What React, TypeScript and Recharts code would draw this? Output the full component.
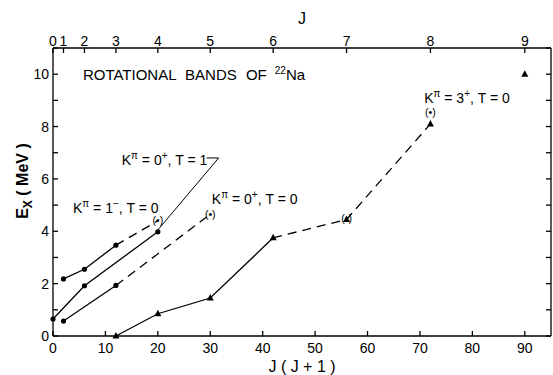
import React from 'react';
import {
  ComposedChart,
  Line,
  Scatter,
  XAxis,
  YAxis,
  ReferenceLine,
  ReferenceDot,
} from 'recharts';

const FONT = '"Liberation Sans", Arial, sans-serif';

// axes
const jValues = [0, 1, 2, 3, 4, 5, 6, 7, 8, 9];
const jjTicks = jValues.map((j) => j * (j + 1));
const bottomTicks = [0, 10, 20, 30, 40, 50, 60, 70, 80, 90];
const exTicks = [0, 1, 2, 3, 4, 5, 6, 7, 8, 9, 10, 11];

// K=1-, T=0
const band1mSolid = [{ jj: 2, ex: 2.18 }, { jj: 6, ex: 2.55 }, { jj: 12, ex: 3.47 }];
const band1mDashed = [{ jj: 12, ex: 3.47 }, { jj: 20, ex: 4.4 }];
// K=0+, T=1
const band0T1 = [{ jj: 0, ex: 0.65 }, { jj: 6, ex: 1.92 }, { jj: 20, ex: 3.98 }];
// K=0+, T=0
const band0T0Solid = [{ jj: 2, ex: 0.57 }, { jj: 12, ex: 1.93 }];
const band0T0Dashed = [{ jj: 12, ex: 1.93 }, { jj: 30, ex: 4.65 }];
// K=3+, T=0
const band3Solid = [{ jj: 12, ex: 0 }, { jj: 20, ex: 0.85 }, { jj: 30, ex: 1.45 }, { jj: 42, ex: 3.75 }];
const band3Dashed = [{ jj: 42, ex: 3.75 }, { jj: 56, ex: 4.45 }, { jj: 72, ex: 8.1 }];
const band3Extra = [{ jj: 90, ex: 10 }];
// tentative levels, drawn as (•)
const tentative = [{ jj: 20, ex: 4.4 }, { jj: 30, ex: 4.65 }, { jj: 56, ex: 4.5 }, { jj: 72, ex: 8.55 }];

const circlePts = [...band1mSolid, ...band0T1, ...band0T0Solid];
const trianglePts = [...band3Solid, ...band3Dashed.slice(1), ...band3Extra];

const Circle = (p: any) => <circle cx={p.cx} cy={p.cy} r={2.6} fill="#000" />;
const Triangle = (p: any) => (
  <polygon points={`${p.cx},${p.cy - 4} ${p.cx - 3.5},${p.cy + 2.5} ${p.cx + 3.5},${p.cy + 2.5}`} fill="#000" />
);
const Tentative = (p: any) => (
  <text x={p.cx} y={p.cy + 3.5} textAnchor="middle" fontSize={10.5} fontFamily={FONT} fill="#000">
    (•)
  </text>
);
const Hidden = () => <g />;

const BandLabel = ({ viewBox, k, parity, t }: any) => (
  <text x={viewBox.x} y={viewBox.y + 5} fontSize={14} fontFamily={FONT} fill="#000">
    K
    <tspan dy={-6} fontSize={10}>π</tspan>
    <tspan dy={6}> = {k}</tspan>
    <tspan dy={-6} fontSize={10}>{parity}</tspan>
    <tspan dy={6}>, T = {t}</tspan>
  </text>
);

const TitleLabel = ({ viewBox }: any) => (
  <text x={viewBox.x} y={viewBox.y + 6} fontSize={15} fontFamily={FONT} fill="#000" wordSpacing={5}>
    ROTATIONAL BANDS OF
    <tspan dx={8} dy={-6} fontSize={10}>22</tspan>
    <tspan dy={6}>Na</tspan>
  </text>
);

const YLabel = ({ viewBox }: any) => {
  const cx = 28;
  const cy = viewBox.y + viewBox.height / 2 - 11;
  return (
    <text
      x={cx}
      y={cy}
      transform={`rotate(-90, ${cx}, ${cy})`}
      textAnchor="middle"
      fontSize={16}
      fontWeight="bold"
      fontFamily={FONT}
      fill="#000"
    >
      E<tspan dy={4} fontSize={12}>X</tspan>
      <tspan dy={-4}>  ( MeV )</tspan>
    </text>
  );
};

const tickStyle = { fontSize: 14, fontFamily: FONT, fill: '#000' };
const axisStroke = { stroke: '#000', strokeWidth: 1.3 };

export default function App() {
  return (
    <div style={{ position: 'absolute', left: 0, top: 0, background: '#fff' }}>
      <ComposedChart width={553} height={375} margin={{ top: 24, right: 0, bottom: 0, left: 0 }}>
        <XAxis
          xAxisId="bottom"
          dataKey="jj"
          type="number"
          domain={[0, 95]}
          ticks={bottomTicks}
          interval={0}
          height={39}
          tickSize={-5}
          tickMargin={12}
          tick={tickStyle}
          axisLine={axisStroke}
          tickLine={axisStroke}
          label={{ value: 'J ( J + 1 )', position: 'insideBottom', offset: 3, style: { ...tickStyle, fontSize: 16 } }}
        />
        <XAxis
          xAxisId="top"
          orientation="top"
          dataKey="jj"
          type="number"
          domain={[0, 95]}
          ticks={jjTicks}
          interval={0}
          tickFormatter={(v: number) => String(jValues[jjTicks.indexOf(v)])}
          height={24}
          tickSize={-5}
          tickMargin={7}
          tick={tickStyle}
          axisLine={axisStroke}
          tickLine={axisStroke}
          label={{ value: 'J', position: 'top', offset: 0, style: { ...tickStyle, fontSize: 16 } }}
        />
        <YAxis
          yAxisId="left"
          type="number"
          domain={[0, 11]}
          ticks={exTicks}
          interval={0}
          tickFormatter={(v: number) => (v % 2 === 0 ? String(v) : '')}
          width={53}
          tickSize={-5}
          tickMargin={9}
          tick={tickStyle}
          axisLine={axisStroke}
          tickLine={axisStroke}
          label={{ content: (p: any) => <YLabel {...p} /> }}
        />
        <YAxis
          yAxisId="right"
          orientation="right"
          type="number"
          domain={[0, 11]}
          ticks={exTicks}
          interval={0}
          tickFormatter={() => ''}
          width={2}
          tickSize={-5}
          axisLine={axisStroke}
          tickLine={axisStroke}
        />

        {/* invisible series so the top and right axes get drawn */}
        <Scatter xAxisId="top" yAxisId="right" data={band3Extra} dataKey="ex" shape={Hidden} isAnimationActive={false} />

        <Line xAxisId="bottom" yAxisId="left" data={band1mSolid} dataKey="ex" type="linear" stroke="#000" strokeWidth={1.3} dot={false} isAnimationActive={false} />
        <Line xAxisId="bottom" yAxisId="left" data={band1mDashed} dataKey="ex" type="linear" stroke="#000" strokeWidth={1.3} strokeDasharray="9 6" dot={false} isAnimationActive={false} />
        <Line xAxisId="bottom" yAxisId="left" data={band0T1} dataKey="ex" type="linear" stroke="#000" strokeWidth={1.3} dot={false} isAnimationActive={false} />
        <Line xAxisId="bottom" yAxisId="left" data={band0T0Solid} dataKey="ex" type="linear" stroke="#000" strokeWidth={1.3} dot={false} isAnimationActive={false} />
        <Line xAxisId="bottom" yAxisId="left" data={band0T0Dashed} dataKey="ex" type="linear" stroke="#000" strokeWidth={1.3} strokeDasharray="9 6" dot={false} isAnimationActive={false} />
        <Line xAxisId="bottom" yAxisId="left" data={band3Solid} dataKey="ex" type="linear" stroke="#000" strokeWidth={1.3} dot={false} isAnimationActive={false} />
        <Line xAxisId="bottom" yAxisId="left" data={band3Dashed} dataKey="ex" type="linear" stroke="#000" strokeWidth={1.3} strokeDasharray="9 6" dot={false} isAnimationActive={false} />

        <Scatter xAxisId="bottom" yAxisId="left" data={circlePts} dataKey="ex" shape={Circle} isAnimationActive={false} />
        <Scatter xAxisId="bottom" yAxisId="left" data={trianglePts} dataKey="ex" shape={Triangle} isAnimationActive={false} />
        <Scatter xAxisId="bottom" yAxisId="left" data={tentative} dataKey="ex" shape={Tentative} isAnimationActive={false} />

        {/* leader line for the K=0+, T=1 label */}
        <ReferenceLine xAxisId="bottom" yAxisId="left" segment={[{ x: 20, y: 4.05 }, { x: 31.6, y: 6.8 }]} stroke="#000" strokeWidth={1} />
        <ReferenceLine xAxisId="bottom" yAxisId="left" segment={[{ x: 29.3, y: 6.8 }, { x: 31.6, y: 6.8 }]} stroke="#000" strokeWidth={1} />

        <ReferenceDot xAxisId="bottom" yAxisId="left" x={5.7} y={10} r={0} fill="none" stroke="none" label={{ content: (p: any) => <TitleLabel {...p} /> }} />
        <ReferenceDot xAxisId="bottom" yAxisId="left" x={13.1} y={6.72} r={0} fill="none" stroke="none" label={{ content: (p: any) => <BandLabel {...p} k="0" parity="+" t="1" /> }} />
        <ReferenceDot xAxisId="bottom" yAxisId="left" x={3.8} y={4.88} r={0} fill="none" stroke="none" label={{ content: (p: any) => <BandLabel {...p} k="1" parity="−" t="0" /> }} />
        <ReferenceDot xAxisId="bottom" yAxisId="left" x={30.3} y={5.23} r={0} fill="none" stroke="none" label={{ content: (p: any) => <BandLabel {...p} k="0" parity="+" t="0" /> }} />
        <ReferenceDot xAxisId="bottom" yAxisId="left" x={70.8} y={9.08} r={0} fill="none" stroke="none" label={{ content: (p: any) => <BandLabel {...p} k="3" parity="+" t="0" /> }} />
      </ComposedChart>
    </div>
  );
}
